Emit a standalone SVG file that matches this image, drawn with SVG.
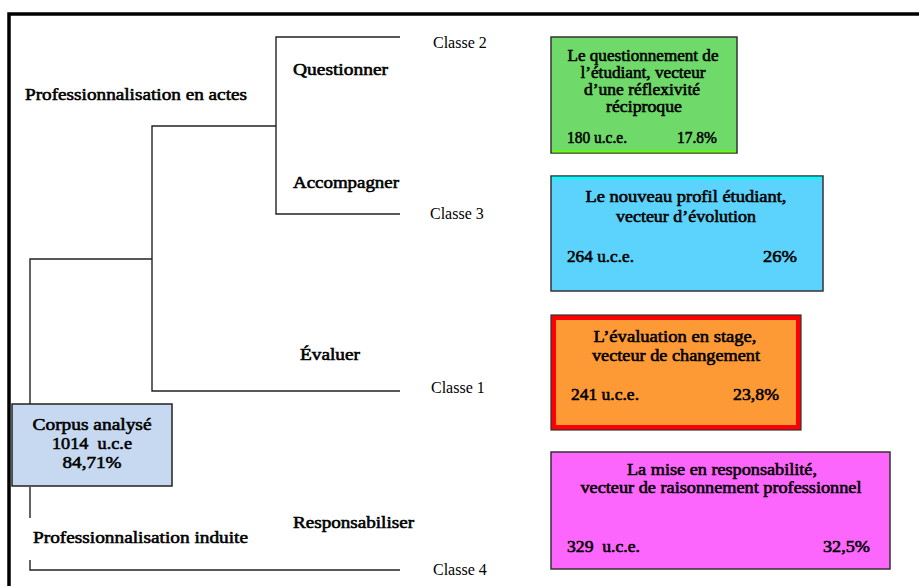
<svg xmlns="http://www.w3.org/2000/svg" width="919" height="586" viewBox="0 0 919 586">
<style>
.b{font-family:"Liberation Serif","Times New Roman",serif;font-size:16px;fill:#000;stroke:#000;stroke-width:0.55px}
.r{font-family:"Liberation Serif","Times New Roman",serif;font-size:16px;fill:#000}
.c{text-anchor:middle}
.e{text-anchor:end}
.ln{fill:none;stroke:#222;stroke-width:1.4}
</style>
<rect width="919" height="586" fill="#fff"/>
<path d="M9,586 V14 H919" fill="none" stroke="#000" stroke-width="3.5"/>
<g id="connectors">
<path class="ln" d="M400,37 H276 V214 H400"/>
<path class="ln" d="M276,126 H152 V391 H400"/>
<path class="ln" d="M152,259 H30 V404"/>
<path class="ln" d="M30,487 V518"/>
<path class="ln" d="M30,560 V570 H400"/>
</g>
<g id="labels">
<text class="b" x="25" y="100" textLength="222" lengthAdjust="spacingAndGlyphs">Professionnalisation en actes</text>
<text class="b" x="293" y="75" textLength="95" lengthAdjust="spacingAndGlyphs">Questionner</text>
<text class="b" x="293" y="188" textLength="106" lengthAdjust="spacingAndGlyphs">Accompagner</text>
<text class="b" x="300" y="360" textLength="60" lengthAdjust="spacingAndGlyphs">Évaluer</text>
<text class="b" x="293" y="528" textLength="121" lengthAdjust="spacingAndGlyphs">Responsabiliser</text>
<text class="b" x="33" y="543" textLength="215" lengthAdjust="spacingAndGlyphs">Professionnalisation induite</text>
<text class="r" x="433" y="48">Classe 2</text>
<text class="r" x="430" y="219">Classe 3</text>
<text class="r" x="431" y="393">Classe 1</text>
<text class="r" x="433" y="575">Classe 4</text>
</g>
<g id="corpus">
<rect x="12" y="404" width="160" height="82" fill="#c6d9f1" stroke="#222" stroke-width="1.5"/>
<text class="b c" x="92" y="430" textLength="119" lengthAdjust="spacingAndGlyphs">Corpus analysé</text>
<text class="b c" x="92" y="449" textLength="80" lengthAdjust="spacingAndGlyphs" xml:space="preserve">1014  u.c.e</text>
<text class="b c" x="92" y="468" textLength="59" lengthAdjust="spacingAndGlyphs">84,71%</text>
</g>
<g id="classe2">
<rect x="551" y="37" width="186" height="116" fill="#6fd96a" stroke="#333" stroke-width="1.5"/>
<line x1="552" y1="151.5" x2="736" y2="151.5" stroke="#6f0" stroke-width="2"/>
<text class="b c" x="643" y="61" textLength="151" lengthAdjust="spacingAndGlyphs">Le questionnement de</text>
<text class="b c" x="643" y="78" textLength="125" lengthAdjust="spacingAndGlyphs">l’étudiant, vecteur</text>
<text class="b c" x="642" y="95" textLength="116" lengthAdjust="spacingAndGlyphs">d’une réflexivité</text>
<text class="b c" x="644" y="112" textLength="76" lengthAdjust="spacingAndGlyphs">réciproque</text>
<text class="b" x="567" y="143" textLength="60" lengthAdjust="spacingAndGlyphs">180 u.c.e.</text>
<text class="b e" x="717" y="143" textLength="40" lengthAdjust="spacingAndGlyphs">17.8%</text>
</g>
<g id="classe3">
<rect x="551" y="176" width="272" height="115" fill="#5bd3fc" stroke="#333" stroke-width="1.5"/>
<line x1="552" y1="178" x2="822" y2="178" stroke="#0ff" stroke-width="2.5"/>
<text class="b c" x="686" y="202" textLength="201" lengthAdjust="spacingAndGlyphs">Le nouveau profil étudiant,</text>
<text class="b c" x="686" y="222" textLength="140" lengthAdjust="spacingAndGlyphs">vecteur d’évolution</text>
<text class="b" x="567" y="262" textLength="67" lengthAdjust="spacingAndGlyphs">264 u.c.e.</text>
<text class="b e" x="797" y="262" textLength="34" lengthAdjust="spacingAndGlyphs">26%</text>
</g>
<g id="classe1">
<rect x="551" y="315" width="250" height="115" fill="#ff0000" stroke="#333" stroke-width="1.2"/>
<rect x="556" y="320" width="240" height="105" fill="#fd9a36"/>
<text class="b c" x="675" y="342" textLength="163" lengthAdjust="spacingAndGlyphs">L’évaluation en stage,</text>
<text class="b c" x="676" y="361" textLength="168" lengthAdjust="spacingAndGlyphs">vecteur de changement</text>
<text class="b" x="571" y="400" textLength="68" lengthAdjust="spacingAndGlyphs">241 u.c.e.</text>
<text class="b e" x="779" y="400" textLength="46" lengthAdjust="spacingAndGlyphs">23,8%</text>
</g>
<g id="classe4">
<rect x="551" y="452" width="339" height="117" fill="#fd66fd" stroke="#333" stroke-width="1.5"/>
<text class="b c" x="722" y="475" textLength="190" lengthAdjust="spacingAndGlyphs">La mise en responsabilité,</text>
<text class="b c" x="721" y="493" textLength="281" lengthAdjust="spacingAndGlyphs">vecteur de raisonnement professionnel</text>
<text class="b" x="567" y="552" textLength="73" lengthAdjust="spacingAndGlyphs" xml:space="preserve">329  u.c.e.</text>
<text class="b e" x="870" y="552" textLength="47" lengthAdjust="spacingAndGlyphs">32,5%</text>
</g>
</svg>
